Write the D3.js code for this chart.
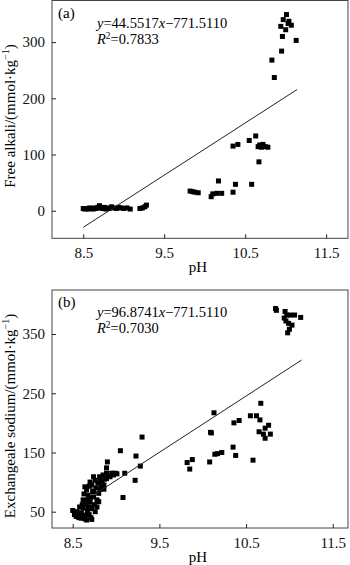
<!DOCTYPE html>
<html><head><meta charset="utf-8">
<script src="https://cdn.jsdelivr.net/npm/d3@7"></script>
<style>html,body{margin:0;padding:0;background:#fff;}svg{display:block;}</style>
</head><body>
<svg id="c" width="350" height="565"></svg>
<script>
// Panel (a) data: pH vs free alkali
const phA = [8.50,8.52,8.54,8.56,8.58,8.60,8.62,8.64,8.66,8.68,8.70,8.72,8.74,8.76,8.78,8.80,8.82,8.85,8.88,8.91,8.94,8.97,9.00,9.04,9.08,9.20,9.23,9.26,9.28,
  9.82,9.85,9.88,9.92,10.08,10.10,10.15,10.17,10.21,10.35,10.38,10.35,10.41,10.55,10.63,10.58,10.67,10.66,10.68,10.70,10.72,10.75,10.78,
  10.83,10.86,10.95,10.96,10.94,10.97,11.01,11.00,11.03,11.04,11.07,11.13];
const alkA = [4,3,4,3,5,4,3,5,4,6,9,5,4,6,3,5,4,7,5,4,6,5,4,5,3,4,5,7,10,
  35,34,33,32,25,30,31,53,31,33,47,115,118,125,133,47,87,114,117,113,118,114,113,
  268,237,284,310,328,340,349,322,333,337,330,303];
const fitA = [[8.5,-29.5],[11.14,215.5]];
// Panel (b) data: pH vs exchangeable sodium
const phB = [8.50,8.52,8.54,8.55,8.57,8.58,8.60,8.60,8.62,8.62,8.63,8.64,8.64,8.65,8.66,8.66,8.67,8.68,8.68,8.69,8.70,8.70,8.71,8.72,8.72,8.72,8.73,8.74,8.74,8.75,8.76,8.76,8.77,8.78,8.79,8.80,8.80,8.81,8.82,8.83,8.84,8.85,8.86,8.87,8.89,8.89,8.89,8.90,8.91,8.93,8.95,8.97,8.99,9.01,9.05,9.08,9.10,9.22,9.23,9.28,9.30,
  8.58,8.61,8.63,8.67,8.69,8.71,8.74,8.78,8.82,8.86,8.65,8.70,
  9.82,9.85,9.88,10.08,10.09,10.10,10.13,10.14,10.17,10.22,10.35,10.38,10.36,10.42,10.55,10.62,10.66,10.58,10.67,10.65,10.70,10.72,10.72,10.76,10.78,
  10.84,10.85,10.95,10.96,10.94,10.97,10.99,11.01,11.03,11.06,11.13,10.98,11.00];
const naB = [52,45,42,50,40,58,39,48,56,70,44,92,38,62,87,36,52,58,78,45,66,100,40,95,37,55,85,75,109,62,103,50,90,70,98,81,67,109,88,92,100,112,95,105,115,106,124,134,110,109,115,112,115,114,153,74,115,103,144,127,176,
  47,62,80,70,93,57,84,58,102,88,44,72,
  133,122,138,134,184,183,217,147,148,150,159,145,200,204,212,212,205,137,233,185,181,191,174,196,181,
  393,390,388,372,377,382,368,382,365,382,378,352,358];
const fitB = [[8.76,80],[11.14,306]];
const xTicks = [8.5,9.5,10.5,11.5];
const yTicksA = [0,100,200,300];
const yTicksB = [50,150,250,350];

const svg = d3.select("#c");
const FONT = "'Liberation Serif','Times New Roman',serif";

function panel(cfg){
  const g = svg.append("g");
  const x = d3.scaleLinear().domain(cfg.xd).range([cfg.l, cfg.r]);
  const y = d3.scaleLinear().domain(cfg.yd).range([cfg.b, cfg.t]);
  g.append("rect").attr("x",cfg.l).attr("y",cfg.t).attr("width",cfg.r-cfg.l).attr("height",cfg.b-cfg.t)
    .attr("fill","none").attr("stroke","#444").attr("stroke-width",1);
  const xa = g.append("g").attr("transform",`translate(0,${cfg.b})`)
    .call(d3.axisBottom(x).tickValues(xTicks).tickFormat(d3.format(".1f")).tickSizeInner(-4).tickSizeOuter(0).tickPadding(9));
  xa.select(".domain").remove();
  xa.selectAll("line").attr("stroke","#222");
  xa.selectAll("text").attr("font-family",FONT).attr("font-size",15).attr("fill","#111");
  const ya = g.append("g").attr("transform",`translate(${cfg.l},0)`)
    .call(d3.axisLeft(y).tickValues(cfg.yt).tickSizeInner(-4).tickSizeOuter(0).tickPadding(7));
  ya.select(".domain").remove();
  ya.selectAll("line").attr("stroke","#222");
  ya.selectAll("text").attr("font-family",FONT).attr("font-size",15).attr("fill","#111");
  g.selectAll("rect.pt").data(cfg.xs.map((v,i)=>[v,cfg.ys[i]])).enter().append("rect").attr("class","pt")
    .attr("x",d=>x(d[0])-2.5).attr("y",d=>y(d[1])-2.5).attr("width",5).attr("height",5).attr("fill","#000");
  g.append("path").datum(cfg.fit).attr("d",d3.line().x(d=>x(d[0])).y(d=>y(d[1])))
    .attr("stroke","#222").attr("stroke-width",1).attr("fill","none");
  g.append("text").attr("x",cfg.l+6).attr("y",cfg.t+17).attr("font-family",FONT).attr("font-size",15).text(cfg.tag);
  const eq = g.append("text").attr("x",cfg.l+45).attr("y",cfg.t+27).attr("font-family",FONT).attr("font-size",14.5);
  eq.append("tspan").attr("font-style","italic").text("y");
  eq.append("tspan").text("="+cfg.eqA);
  eq.append("tspan").attr("font-style","italic").text("x");
  eq.append("tspan").text("\u2212771.5110");
  const r2 = g.append("text").attr("x",cfg.l+45).attr("y",cfg.t+43).attr("font-family",FONT).attr("font-size",14.5);
  r2.append("tspan").attr("font-style","italic").text("R");
  r2.append("tspan").attr("font-size",9.5).attr("dy",-5).text("2");
  r2.append("tspan").attr("dy",5).text("=" + cfg.r2);
  g.append("text").attr("x",(cfg.l+cfg.r)/2 - 2).attr("y",cfg.b+34).attr("text-anchor","middle")
    .attr("font-family",FONT).attr("font-size",15).text("pH");
  const yl = g.append("text").attr("transform",`translate(15,${cfg.yc}) rotate(-90)`).attr("text-anchor","middle")
    .attr("font-family",FONT).attr("font-size",15);
  yl.append("tspan").text(cfg.ylab+"/(mmol\u00B7kg");
  yl.append("tspan").attr("font-size",10).attr("dy",-6).text("\u22121");
  yl.append("tspan").attr("dy",6).text(")");
}

panel({l:52,r:348,t:0.5,b:238.3,xd:[8.114,11.77],yd:[-49,374],yt:yTicksA,xs:phA,ys:alkA,fit:fitA,
  tag:"(a)",eqA:"44.5517",r2:"0.7833",ylab:"Free alkali",yc:116});
panel({l:52,r:348,t:290,b:528,xd:[8.261,11.676],yd:[22.5,424.3],yt:yTicksB,xs:phB,ys:naB,fit:fitB,
  tag:"(b)",eqA:"96.8741",r2:"0.7030",ylab:"Exchangeale sodium",yc:416});
</script>
</body></html>
